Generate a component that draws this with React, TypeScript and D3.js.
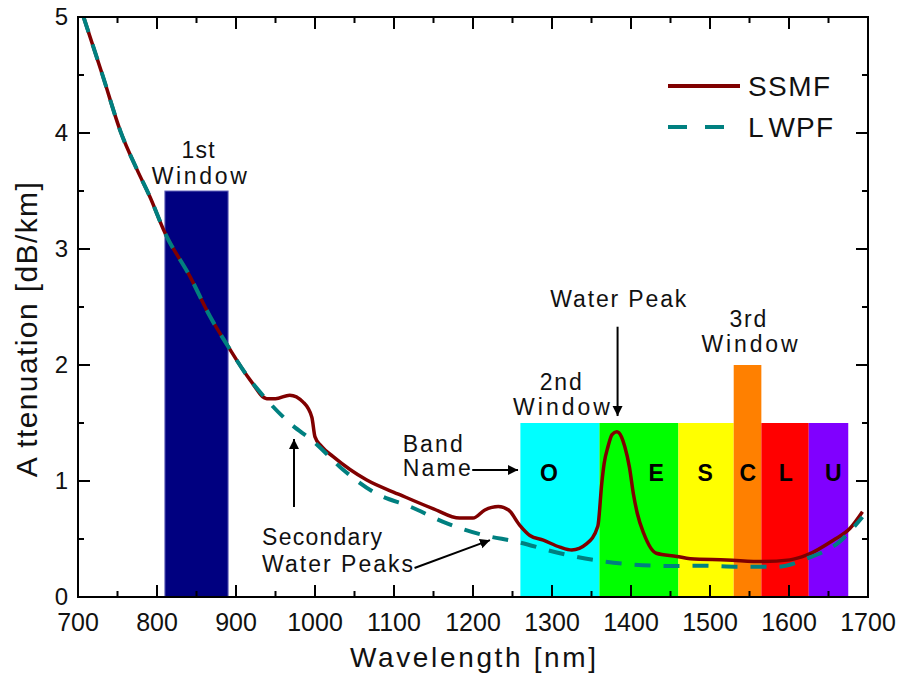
import React from "react";
import * as d3 from "d3";

// SSMF attenuation
const ssmfWavelength = [
  707, 731, 754, 775, 791, 810, 842, 867, 890, 918, 939, 950, 968, 985, 996,
  1000, 1008, 1023, 1065, 1108, 1150, 1183, 1200, 1215, 1232, 1245, 1259, 1272,
  1289, 1310, 1325, 1344, 1358, 1363, 1366, 1371, 1376, 1382, 1388, 1392, 1398,
  1403, 1408, 1416, 1432, 1458, 1475, 1521, 1567, 1601, 1622, 1656, 1677, 1693,
];
const ssmfLoss = [
  5.0, 4.5, 4.01, 3.68, 3.45, 3.14, 2.76, 2.42, 2.16, 1.87, 1.71, 1.71, 1.74,
  1.68, 1.55, 1.38, 1.3, 1.21, 1.01, 0.88, 0.76, 0.68, 0.68, 0.75, 0.78, 0.75,
  0.62, 0.53, 0.49, 0.43, 0.405, 0.46, 0.61, 0.98, 1.15, 1.3, 1.4, 1.425, 1.38,
  1.3, 1.12, 0.89, 0.72, 0.55, 0.377, 0.35, 0.33, 0.32, 0.305, 0.32, 0.36, 0.49,
  0.59, 0.735,
];

// LWPF (low water peak fibre)
const lwpfWavelength = [
  707, 731, 754, 775, 791, 810, 842, 867, 890, 918, 935, 968, 998, 1036, 1078,
  1120, 1167, 1213, 1255, 1310, 1352, 1395, 1449, 1487, 1538, 1584, 1622, 1664,
  1693,
];
const lwpfLoss = [
  5.0, 4.5, 4.01, 3.68, 3.45, 3.14, 2.76, 2.42, 2.16, 1.87, 1.73, 1.5, 1.34,
  1.095, 0.89, 0.78, 0.635, 0.534, 0.477, 0.377, 0.32, 0.284, 0.267, 0.27, 0.26,
  0.26, 0.33, 0.477, 0.69,
];

const bandNames = ["O", "E", "S", "C", "L", "U"];
const bandStart = [1260, 1360, 1460, 1530, 1565, 1625];
const bandEnd = [1360, 1460, 1530, 1565, 1625, 1675];
const bandTop = [1.5, 1.5, 1.5, 2.0, 1.5, 1.5];
const bandColors = ["#00FFFF", "#00FF00", "#FFFF00", "#FF8000", "#FF0000", "#8000FF"];
const bandLabelAt = [1296, 1432, 1494, 1548, 1596, 1656];

const firstWindow = [810, 890];
const firstWindowTop = 3.5;

const xTicks = d3.range(700, 1701, 100);
const xMinor = d3.range(750, 1700, 100);
const yTicks = [0, 1, 2, 3, 4, 5];
const yMinor = [0.5, 1.5, 2.5, 3.5, 4.5];

const W = 901;
const H = 679;
const left = 78;
const right = 868;
const top = 17;
const bottom = 597;
const font = "'Liberation Sans', Arial, sans-serif";

export default function App() {
  const x = d3.scaleLinear().domain([700, 1700]).range([left, right]);
  const y = d3.scaleLinear().domain([0, 5]).range([bottom, top]);

  const mk = (wl: number[], a: number[]) =>
    d3
      .line<number>()
      .x((_, i) => x(wl[i]))
      .y((_, i) => y(a[i]))
      .curve(d3.curveMonotoneX)(wl) ?? "";

  const ssmfPath = mk(ssmfWavelength, ssmfLoss);
  const lwpfPath = mk(lwpfWavelength, lwpfLoss);

  const txt = (
    s: string,
    cx: number,
    by: number,
    len: number,
    size = 23,
    anchor: "middle" | "start" = "middle",
  ) => (
    <text
      x={anchor === "middle" ? cx - len / 2 : cx}
      y={by}
      fontSize={size}
      textLength={len}
      lengthAdjust="spacing"
      fontFamily={font}
      fill="#111"
    >
      {s}
    </text>
  );

  return (
    <div style={{ position: "absolute", left: 0, top: 0 }}>
      <svg width={W} height={H} style={{ display: "block", background: "#fff" }}>
        <defs>
          <marker
            id="arr"
            viewBox="0 0 10 10"
            refX="10"
            refY="5"
            markerWidth="10"
            markerHeight="11"
            markerUnits="userSpaceOnUse"
            orient="auto"
          >
            <path d="M0,0 L10,5 L0,10 z" fill="#000" />
          </marker>
        </defs>

        {/* 1st window */}
        <rect
          x={x(firstWindow[0])}
          y={y(firstWindowTop)}
          width={x(firstWindow[1]) - x(firstWindow[0])}
          height={y(0) - y(firstWindowTop)}
          fill="#000080"
          stroke="#6666bb"
          strokeWidth={1}
        />

        {/* bands */}
        {bandNames.map((b, i) => (
          <rect
            key={b}
            x={x(bandStart[i])}
            y={y(bandTop[i])}
            width={x(bandEnd[i]) - x(bandStart[i])}
            height={y(0) - y(bandTop[i])}
            fill={bandColors[i]}
          />
        ))}

        {/* curves */}
        <path d={ssmfPath} fill="none" stroke="#800000" strokeWidth={3.5} strokeLinejoin="round" />
        <path d={lwpfPath} fill="none" stroke="#008080" strokeWidth={4} strokeDasharray="16,13" />

        {/* band letters */}
        {bandNames.map((b, i) => (
          <text
            key={"l" + b}
            x={x(bandLabelAt[i])}
            y={y(0.145) + (y(1) - y(0.145))}
            textAnchor="middle"
            fontSize={23}
            fontWeight="bold"
            fontFamily={font}
            fill="#000"
          >
            {b}
          </text>
        ))}

        {/* axes frame */}
        <rect x={left} y={top} width={right - left} height={bottom - top} fill="none" stroke="#000" strokeWidth={2} />
        {xTicks.map((t) => (
          <g key={"xt" + t}>
            <line x1={x(t)} x2={x(t)} y1={bottom} y2={bottom - 12} stroke="#000" strokeWidth={2} />
            <line x1={x(t)} x2={x(t)} y1={top} y2={top + 12} stroke="#000" strokeWidth={2} />
            <text x={x(t)} y={631} textAnchor="middle" fontSize={25} fontFamily={font} fill="#111">
              {t}
            </text>
          </g>
        ))}
        {xMinor.map((t) => (
          <g key={"xm" + t}>
            <line x1={x(t)} x2={x(t)} y1={bottom} y2={bottom - 6} stroke="#000" strokeWidth={2} />
            <line x1={x(t)} x2={x(t)} y1={top} y2={top + 6} stroke="#000" strokeWidth={2} />
          </g>
        ))}
        {yTicks.map((t) => (
          <g key={"yt" + t}>
            <line x1={left} x2={left + 12} y1={y(t)} y2={y(t)} stroke="#000" strokeWidth={2} />
            <line x1={right} x2={right - 12} y1={y(t)} y2={y(t)} stroke="#000" strokeWidth={2} />
            <text x={68} y={y(t) + 8} textAnchor="end" fontSize={24} fontFamily={font} fill="#111">
              {t}
            </text>
          </g>
        ))}
        {yMinor.map((t) => (
          <g key={"ym" + t}>
            <line x1={left} x2={left + 6} y1={y(t)} y2={y(t)} stroke="#000" strokeWidth={2} />
            <line x1={right} x2={right - 6} y1={y(t)} y2={y(t)} stroke="#000" strokeWidth={2} />
          </g>
        ))}

        {/* axis titles */}
        {txt("Wavelength [nm]", (left + right) / 2, 667, 246, 28)}
        <text
          transform={`translate(37,${y(2.3)}) rotate(-90)`}
          x={-147}
          y={0}
          fontSize={30}
          textLength={295}
          lengthAdjust="spacing"
          fontFamily={font}
          fill="#111"
        >
          <tspan>A</tspan>
          <tspan dx={8}>ttenuation [dB/km]</tspan>
        </text>

        {/* annotations */}
        {txt("1st", x(852), y(3.785), 33)}
        {txt("Window", x(853.5), y(3.558), 95)}
        {txt("Water Peak", x(1384), y(2.504), 136)}
        <line x1={x(1383)} x2={x(1383)} y1={y(2.33)} y2={y(1.56)} stroke="#000" strokeWidth={2} markerEnd="url(#arr)" />
        {txt("3rd", x(1548), y(2.33), 37)}
        {txt("Window", x(1550), y(2.115), 96)}
        {txt("2nd", x(1311), y(1.785), 42)}
        {txt("Window", x(1312), y(1.57), 97)}
        {txt("Band", x(1111), y(1.25), 60, 23, "start")}
        {txt("Name", x(1111), y(1.043), 68, 23, "start")}
        <line x1={x(1199)} x2={x(1257)} y1={y(1.095)} y2={y(1.095)} stroke="#000" strokeWidth={2} markerEnd="url(#arr)" />
        {txt("Secondary", x(933), y(0.448), 120, 23, "start")}
        {txt("Water Peaks", x(933), y(0.216), 151, 23, "start")}
        <line x1={x(973.4)} x2={x(973.4)} y1={y(0.776)} y2={y(1.362)} stroke="#000" strokeWidth={2} markerEnd="url(#arr)" />
        <line x1={x(1126)} x2={x(1221.5)} y1={y(0.25)} y2={y(0.49)} stroke="#000" strokeWidth={2} markerEnd="url(#arr)" />

        {/* legend */}
        <line x1={668} x2={740} y1={86} y2={86} stroke="#800000" strokeWidth={4} />
        <text x={748} y={96} fontSize={28} textLength={82} lengthAdjust="spacing" fontFamily={font} fill="#111">
          SSMF
        </text>
        <line x1={668} x2={725} y1={127} y2={127} stroke="#008080" strokeWidth={4} strokeDasharray="19,18" />
        <text x={748} y={137} fontSize={28} textLength={85} lengthAdjust="spacing" fontFamily={font} fill="#111">
          <tspan>L</tspan>
          <tspan dx={6}>WPF</tspan>
        </text>
      </svg>
    </div>
  );
}
